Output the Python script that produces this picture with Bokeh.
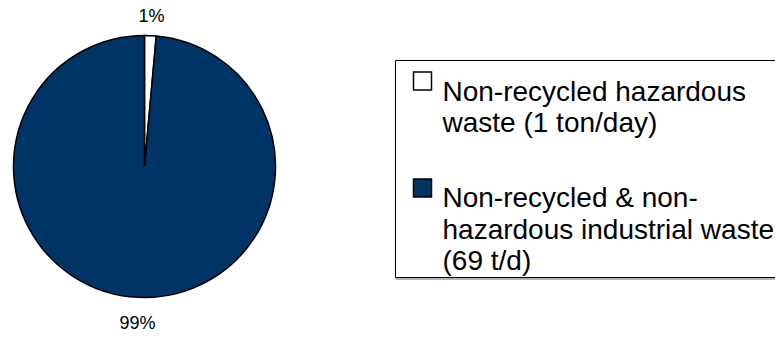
import numpy as np
from bokeh.plotting import figure
from bokeh.models import ColumnDataSource, Range1d
from bokeh.core.properties import value
from bokeh.embed import file_html
from bokeh.resources import INLINE

# Daily non-recycled waste streams
categories = [
    "Non-recycled hazardous\nwaste (1 ton/day)",
    "Non-recycled & non-\nhazardous industrial waste\n(69 t/d)",
]
tons_per_day = [1, 69]
colors = ["#ffffff", "#003366"]

W, H = 775, 338
FONT = "Liberation Sans"

p = figure(width=W, height=H, x_range=Range1d(0, W), y_range=Range1d(0, H),
           output_backend="svg", toolbar_location=None, min_border=0,
           x_axis_location=None, y_axis_location=None)
p.grid.visible = False
p.outline_line_color = None
p.background_fill_color = "white"
p.border_fill_color = "white"

# pie: first slice starts at 12 o'clock, slices run clockwise
total = float(sum(tons_per_day))
frac = np.array(tons_per_day, dtype=float) / total
cum = np.concatenate([[0.0], np.cumsum(frac)])
start = np.pi / 2 - 2 * np.pi * cum[:-1]
end = np.pi / 2 - 2 * np.pi * cum[1:]
cx, cy, r = 144, H - 166, 131

pie = ColumnDataSource(dict(start=start, end=end, color=colors))
p.wedge(x=cx, y=cy, radius=r, start_angle="start", end_angle="end",
        direction="clock", fill_color="color", line_color="black",
        line_width=1.5, line_join="miter", source=pie)

# percentage labels outside the pie, along each slice's mid angle
mid = (start + end) / 2
lab_r = 154
pct = ColumnDataSource(dict(
    x=cx + lab_r * np.cos(mid),
    y=cy + lab_r * np.sin(mid),
    text=[f"{round(100 * f)}%" for f in frac],
))
p.text(x="x", y="y", text="text", source=pct, text_align="center",
       text_baseline="middle", y_offset=3, text_font=value(FONT),
       text_font_size="18px", text_color="#000000")

# legend frame (runs off the right edge)
box_l, box_t, box_b = 395, 60, 277
p.quad(left=box_l, right=W + 20, top=H - box_t, bottom=H - box_b,
       fill_color="white", line_color="black", line_width=1)
p.segment(x0=box_l, y0=H - box_b - 1.5, x1=W + 20, y1=H - box_b - 1.5,
          line_color="#9a9a9a", line_width=1.5)

# legend swatches
first_base = [90.7, 197]
p.rect(x=[422, 422], y=[H - 80.5, H - 187.5], width=18, height=18,
       fill_color=colors, line_color="black", line_width=1.5,
       line_join="miter")

# legend labels, one text row per line
xs, ys, rows = [], [], []
for base, label in zip(first_base, categories):
    for j, line in enumerate(label.split("\n")):
        xs.append(442)
        ys.append(H - (base + j * 31.5))
        rows.append(line)
p.text(x=xs, y=ys, text=rows, text_align="left", text_baseline="alphabetic",
       text_font=value(FONT), text_font_size="28px", text_color="#000000")

open("out.html", "w").write(file_html(p, INLINE))
